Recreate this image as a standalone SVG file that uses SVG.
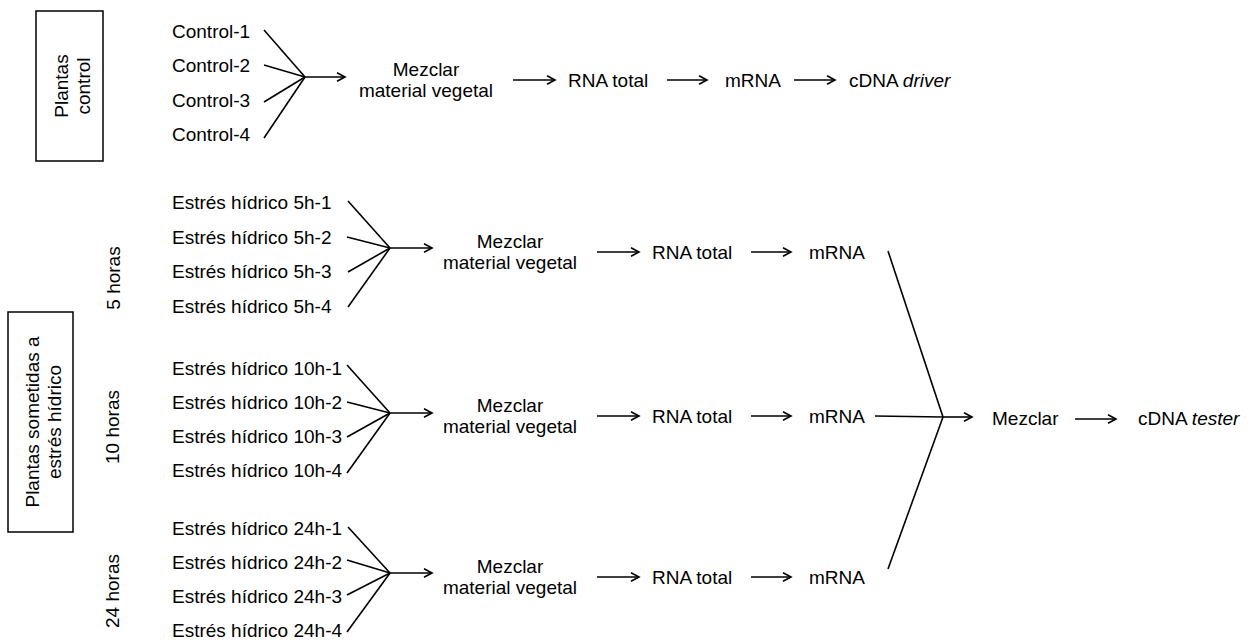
<svg xmlns="http://www.w3.org/2000/svg" width="1256" height="644" viewBox="0 0 1256 644">
<style>
text{font-family:"Liberation Sans",Arial,sans-serif;font-size:19px;fill:#000}
.c{text-anchor:middle}
.box{fill:#fff;stroke:#000;stroke-width:1.5}
.ln{stroke:#000;stroke-width:1.6;fill:none}
.ar{stroke:#000;stroke-width:1.6;fill:none;marker-end:url(#ah)}
</style>
<defs>
<marker id="ah" markerUnits="userSpaceOnUse" markerWidth="12" markerHeight="12" refX="9" refY="5" orient="auto" viewBox="0 0 12 10">
<path d="M1,0.8 L9,5 L1,9.2" fill="none" stroke="#000" stroke-width="1.6"/>
</marker>
</defs>
<rect width="1256" height="644" fill="#fff"/>

<g id="box-control">
<rect class="box" x="36" y="11" width="67" height="150"/>
<text class="c" transform="translate(70,86) rotate(-90)"><tspan x="0" y="-2">Plantas</tspan><tspan x="0" y="20">control</tspan></text>
</g>
<g id="box-estres">
<rect class="box" x="8" y="312" width="65" height="220"/>
<text class="c" transform="translate(40,422) rotate(-90)"><tspan x="0" y="-1">Plantas sometidas a</tspan><tspan x="0" y="21">estrés hídrico</tspan></text>
</g>
<g id="lbl-5h"><text class="c" transform="translate(120,278) rotate(-90)">5 horas</text></g>
<g id="lbl-10h"><text class="c" transform="translate(119,427) rotate(-90)">10 horas</text></g>
<g id="lbl-24h"><text class="c" transform="translate(119,591) rotate(-90)">24 horas</text></g>

<g id="samples-control">
<text x="172" y="38">Control-1</text>
<text x="172" y="72">Control-2</text>
<text x="172" y="107">Control-3</text>
<text x="172" y="141">Control-4</text>
</g>
<g id="samples-5h">
<text x="172" y="209">Estrés hídrico 5h-1</text>
<text x="172" y="244">Estrés hídrico 5h-2</text>
<text x="172" y="278">Estrés hídrico 5h-3</text>
<text x="172" y="313">Estrés hídrico 5h-4</text>
</g>
<g id="samples-10h">
<text x="172" y="375">Estrés hídrico 10h-1</text>
<text x="172" y="409">Estrés hídrico 10h-2</text>
<text x="172" y="443">Estrés hídrico 10h-3</text>
<text x="172" y="477">Estrés hídrico 10h-4</text>
</g>
<g id="samples-24h">
<text x="172" y="535">Estrés hídrico 24h-1</text>
<text x="172" y="569">Estrés hídrico 24h-2</text>
<text x="172" y="603">Estrés hídrico 24h-3</text>
<text x="172" y="637">Estrés hídrico 24h-4</text>
</g>

<g id="row-control">
<text class="c" x="426" y="76">Mezclar</text>
<text class="c" x="426" y="97">material vegetal</text>
<text x="568" y="87">RNA total</text>
<text x="725" y="87">mRNA</text>
<text x="849" y="87">cDNA <tspan font-style="italic">driver</tspan></text>
</g>
<g id="row-5h">
<text class="c" x="510" y="248">Mezclar</text>
<text class="c" x="510" y="269">material vegetal</text>
<text x="652" y="259">RNA total</text>
<text x="809" y="259">mRNA</text>
</g>
<g id="row-10h">
<text class="c" x="510" y="412">Mezclar</text>
<text class="c" x="510" y="433">material vegetal</text>
<text x="652" y="423">RNA total</text>
<text x="809" y="423">mRNA</text>
</g>
<g id="row-24h">
<text class="c" x="510" y="573">Mezclar</text>
<text class="c" x="510" y="594">material vegetal</text>
<text x="652" y="584">RNA total</text>
<text x="809" y="584">mRNA</text>
</g>
<g id="final">
<text x="992" y="425">Mezclar</text>
<text x="1138" y="425">cDNA <tspan font-style="italic">tester</tspan></text>
</g>

<g id="connectors">
<line class="ln" x1="264" y1="30" x2="305" y2="77"/>
<line class="ln" x1="264" y1="65" x2="305" y2="77"/>
<line class="ln" x1="264" y1="102" x2="305" y2="77"/>
<line class="ln" x1="264" y1="138" x2="305" y2="77"/>
<line class="ar" x1="305" y1="77" x2="345" y2="77"/>
<line class="ar" x1="513" y1="80" x2="555" y2="80"/>
<line class="ar" x1="667" y1="80" x2="707" y2="80"/>
<line class="ar" x1="794" y1="80" x2="835" y2="80"/>

<line class="ln" x1="348" y1="201" x2="390" y2="248"/>
<line class="ln" x1="347" y1="237" x2="390" y2="248"/>
<line class="ln" x1="348" y1="272" x2="390" y2="248"/>
<line class="ln" x1="348" y1="307" x2="390" y2="248"/>
<line class="ar" x1="390" y1="248" x2="432" y2="248"/>
<line class="ar" x1="597" y1="252" x2="639" y2="252"/>
<line class="ar" x1="751" y1="252" x2="791" y2="252"/>

<line class="ln" x1="347" y1="365" x2="390" y2="413"/>
<line class="ln" x1="347" y1="402" x2="390" y2="413"/>
<line class="ln" x1="347" y1="437" x2="390" y2="413"/>
<line class="ln" x1="347" y1="473" x2="390" y2="413"/>
<line class="ar" x1="390" y1="413" x2="432" y2="413"/>
<line class="ar" x1="597" y1="416" x2="639" y2="416"/>
<line class="ar" x1="751" y1="416" x2="791" y2="416"/>

<line class="ln" x1="348" y1="527" x2="390" y2="573"/>
<line class="ln" x1="347" y1="560" x2="390" y2="573"/>
<line class="ln" x1="347" y1="595" x2="390" y2="573"/>
<line class="ln" x1="347" y1="632" x2="390" y2="573"/>
<line class="ar" x1="390" y1="573" x2="432" y2="573"/>
<line class="ar" x1="597" y1="577" x2="639" y2="577"/>
<line class="ar" x1="751" y1="577" x2="791" y2="577"/>

<line class="ln" x1="888" y1="251" x2="943" y2="417"/>
<line class="ln" x1="888" y1="569" x2="943" y2="417"/>
<line class="ln" x1="875" y1="416" x2="943" y2="417"/>
<line class="ar" x1="943" y1="417" x2="972" y2="417"/>
<line class="ar" x1="1075" y1="419" x2="1116" y2="419"/>
</g>
</svg>
